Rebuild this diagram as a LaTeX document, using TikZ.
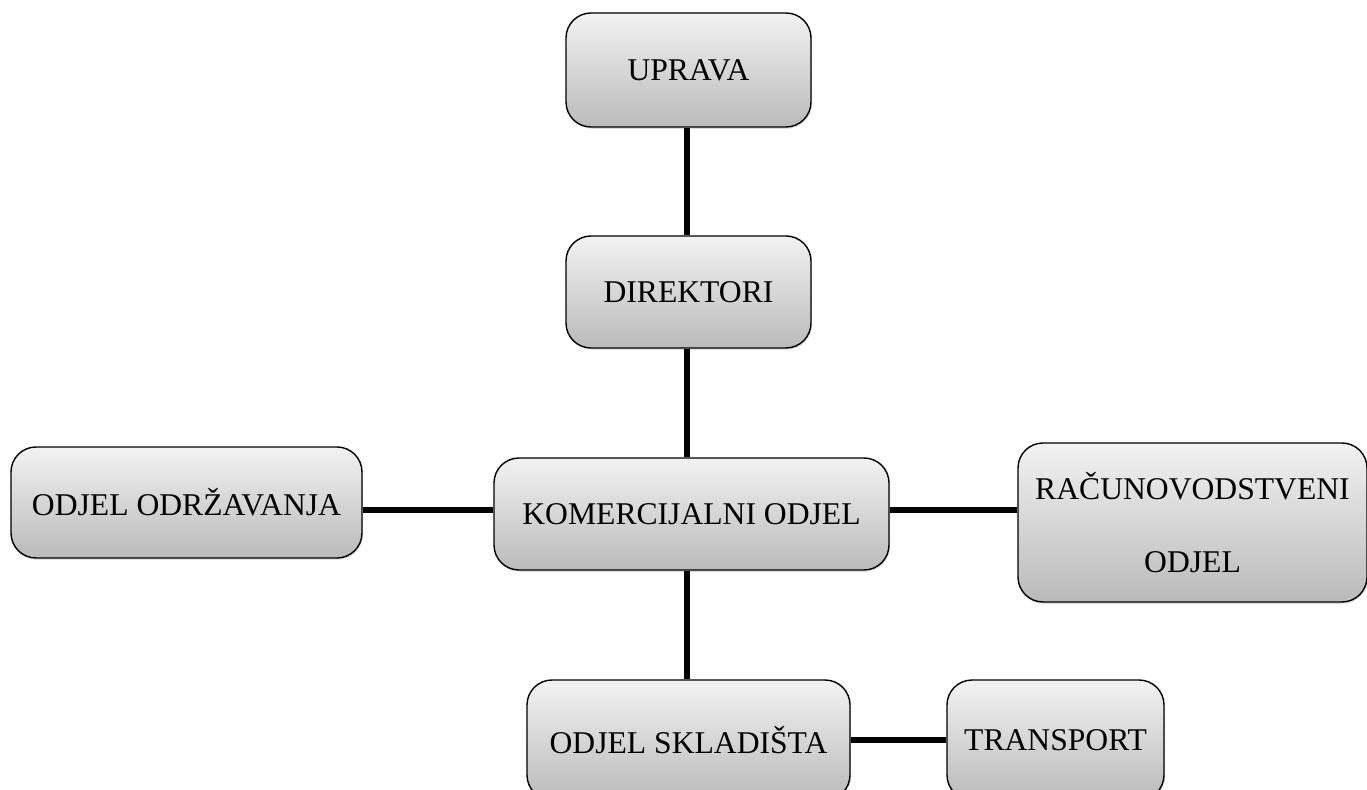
\documentclass[tikz,border=0pt]{standalone}
\usepackage{fontspec}
\setmainfont{Liberation Serif}
\usetikzlibrary{shadows}
\tikzset{
  odjel/.style={draw, line width=0.8pt, rounded corners=0.5cm,
    top color=black!5, bottom color=black!27,
    drop shadow={opacity=0.25, shadow xshift=0.6pt, shadow yshift=-1pt},
    font=\fontsize{18}{22}\selectfont, align=center, inner sep=0pt},
  veza/.style={line width=3.3pt}
}
\begin{document}
\begin{tikzpicture}
	\useasboundingbox (0, 0) rectangle (27.34, 15.78);
	\node[odjel, minimum width=4.9cm, minimum height=2.28cm](upr)at(13.77, 14.38){UPRAVA};
	\node[odjel, minimum width=4.9cm, minimum height=2.24cm](dir)at(13.77, 9.94){DIREKTORI};
	\node[odjel, minimum width=7.9cm, minimum height=2.24cm](kom)at(13.83, 5.5){KOMERCIJALNI ODJEL};
	\node[odjel, minimum width=7.02cm, minimum height=2.22cm](odr)at(3.73, 5.73){ODJEL ODRŽAVANJA};
	\node[odjel, minimum width=6.98cm, minimum height=3.18cm](rac)at(23.85, 5.33){RAČUNOVODSTVENI\\[0.7cm]ODJEL};
	\node[odjel, minimum width=6.46cm, minimum height=2.4cm](skl)at(13.77, 0.98){ODJEL SKLADIŠTA};
	\node[odjel, minimum width=4.34cm, minimum height=2.4cm](tra)at(21.11, 0.98){TRANSPORT};
	\draw[veza](upr.south -| 13.74, 0)--(dir.north -| 13.74, 0);
	\draw[veza](dir.south -| 13.74, 0)--(kom.north -| 13.74, 0);
	\draw[veza](kom.south -| 13.74, 0)--(skl.north -| 13.74, 0);
	\draw[veza](odr.east |- 0, 5.58)--(kom.west |- 0, 5.58);
	\draw[veza](kom.east |- 0, 5.58)--(rac.west |- 0, 5.58);
	\draw[veza](skl.east |- 0, 0.98)--(tra.west |- 0, 0.98);
\end{tikzpicture}
\end{document}
